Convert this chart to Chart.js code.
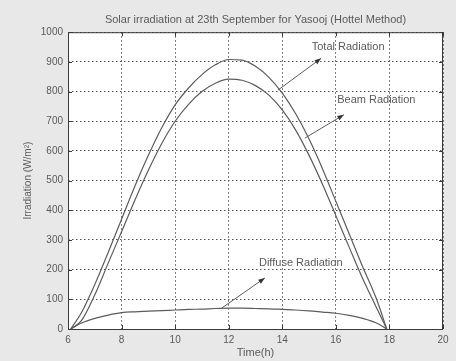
<!DOCTYPE html>
<html>
<head>
<meta charset="utf-8">
<script src="https://cdn.jsdelivr.net/npm/chart.js@4.4.1/dist/chart.umd.min.js"></script>
<style>
  html, body { margin: 0; padding: 0; background: #e8e8e8; }
  #wrap { width: 456px; height: 361px; position: relative; }
</style>
</head>
<body>
<div id="wrap"><canvas id="irradiationChart"></canvas></div>
<script>
// Hours of the day (h) and irradiation values (W/m2)
const hours = [6.1, 6.5, 7, 7.5, 8, 8.5, 9, 9.5, 10, 10.5, 11, 11.5, 12, 12.5, 13, 13.5, 14, 14.5, 15, 15.5, 16, 16.5, 17, 17.5, 17.9];
const totalRadiation = [0, 55, 150, 258, 370, 482, 585, 678, 755, 812, 857, 890, 908, 906, 885, 848, 795, 725, 640, 540, 430, 320, 210, 105, 0];
const beamRadiation = [0, 28, 115, 222, 328, 435, 535, 625, 700, 757, 800, 828, 842, 838, 820, 788, 738, 670, 585, 488, 382, 275, 170, 75, 0];
const diffuseRadiation = [0, 20, 36, 47, 55, 58, 60, 62, 64, 66, 67, 69, 70, 70, 69, 68, 66, 64, 61, 57, 53, 46, 36, 21, 0];
const xTicks = [6, 8, 10, 12, 14, 16, 18, 20];
const yTicks = [0, 100, 200, 300, 400, 500, 600, 700, 800, 900, 1000];

// label text, arrow start (on the curve) and arrow tip, in data units
const notes = [
    { text: 'Total Radiation', tx: 15.1, ty: 949, from: [13.84, 805], to: [15.45, 912] },
    { text: 'Beam Radiation', tx: 16.05, ty: 771, from: [14.84, 643], to: [16.3, 722] },
    { text: 'Diffuse Radiation', tx: 13.13, ty: 222, from: [11.75, 71], to: [13.35, 172] }
];

const textColor = '#5a5a5a';
const lineColor = '#5c5c5c';
const fontFamily = "'Liberation Sans', Arial, sans-serif";

function toPoints(values) {
    return hours.map((h, i) => ({ x: h, y: values[i] }));
}

const framePlugin = {
    id: 'frame',
    beforeDraw(chart) {
        const { ctx, chartArea: a } = chart;
        ctx.save();
        ctx.fillStyle = '#e8e8e8';
        ctx.fillRect(0, 0, chart.width, chart.height);
        ctx.fillStyle = '#ffffff';
        ctx.fillRect(a.left, a.top, a.right - a.left, a.bottom - a.top);
        ctx.restore();
    },
    beforeDatasetsDraw(chart) {
        const { ctx, chartArea: a, scales } = chart;
        ctx.save();
        ctx.strokeStyle = '#3a3a3a';
        ctx.lineWidth = 1;
        ctx.strokeRect(a.left + 0.5, a.top + 0.5, a.right - a.left - 1, a.bottom - a.top);
        // small inward tick marks on all four sides
        ctx.beginPath();
        xTicks.forEach(v => {
            const x = Math.round(scales.x.getPixelForValue(v)) + 0.5;
            ctx.moveTo(x, a.bottom); ctx.lineTo(x, a.bottom - 4);
            ctx.moveTo(x, a.top); ctx.lineTo(x, a.top + 4);
        });
        yTicks.forEach(v => {
            const y = Math.round(scales.y.getPixelForValue(v)) + 0.5;
            ctx.moveTo(a.left, y); ctx.lineTo(a.left + 4, y);
            ctx.moveTo(a.right, y); ctx.lineTo(a.right - 4, y);
        });
        ctx.stroke();
        ctx.restore();
    },
    afterDatasetsDraw(chart) {
        const { ctx, scales } = chart;
        ctx.save();
        ctx.font = '11px ' + fontFamily;
        ctx.textBaseline = 'middle';
        notes.forEach(n => {
            ctx.fillStyle = textColor;
            ctx.fillText(n.text, scales.x.getPixelForValue(n.tx), scales.y.getPixelForValue(n.ty));
            const x1 = scales.x.getPixelForValue(n.from[0]);
            const y1 = scales.y.getPixelForValue(n.from[1]);
            const x2 = scales.x.getPixelForValue(n.to[0]);
            const y2 = scales.y.getPixelForValue(n.to[1]);
            ctx.strokeStyle = lineColor;
            ctx.lineWidth = 1;
            ctx.beginPath();
            ctx.moveTo(x1, y1);
            ctx.lineTo(x2, y2);
            ctx.stroke();
            const ang = Math.atan2(y2 - y1, x2 - x1);
            ctx.fillStyle = '#333';
            ctx.beginPath();
            ctx.moveTo(x2, y2);
            ctx.lineTo(x2 - 7 * Math.cos(ang - 0.35), y2 - 7 * Math.sin(ang - 0.35));
            ctx.lineTo(x2 - 7 * Math.cos(ang + 0.35), y2 - 7 * Math.sin(ang + 0.35));
            ctx.closePath();
            ctx.fill();
        });
        ctx.restore();
    }
};

const lineStyle = {
    borderColor: lineColor,
    borderWidth: 1.2,
    pointRadius: 0,
    cubicInterpolationMode: 'monotone',
    fill: false
};

new Chart(document.getElementById('irradiationChart'), {
    type: 'line',
    data: {
        datasets: [
            Object.assign({ label: 'Total Radiation', data: toPoints(totalRadiation) }, lineStyle),
            Object.assign({ label: 'Beam Radiation', data: toPoints(beamRadiation) }, lineStyle),
            Object.assign({ label: 'Diffuse Radiation', data: toPoints(diffuseRadiation) }, lineStyle)
        ]
    },
    options: {
        responsive: true,
        maintainAspectRatio: false,
        animation: false,
        layout: { padding: { left: 0, right: 13, top: 0, bottom: 0 } },
        plugins: {
            legend: { display: false },
            tooltip: { enabled: false },
            title: {
                display: true,
                fullSize: false,
                text: 'Solar irradiation at 23th September for Yasooj (Hottel Method)',
                color: textColor,
                font: { size: 11, family: fontFamily, weight: 'normal', lineHeight: 1.2 },
                padding: { top: 13, bottom: 6 }
            }
        },
        scales: {
            x: {
                type: 'linear',
                min: 6,
                max: 20,
                afterFit(scale) { scale.height = 32; },
                afterBuildTicks(scale) { scale.ticks = xTicks.map(v => ({ value: v })); },
                grid: { color: '#555', lineWidth: 1, drawTicks: false },
                border: { display: false, dash: [1.5, 2.5] },
                ticks: { color: textColor, padding: 5, font: { size: 10, family: fontFamily }, callback: v => String(v) },
                title: {
                    display: true,
                    text: 'Time(h)',
                    color: textColor,
                    font: { size: 11, family: fontFamily, lineHeight: 1.2 },
                    padding: { top: 0, bottom: 1 }
                }
            },
            y: {
                min: 0,
                max: 1000,
                afterFit(scale) { scale.width = 68; },
                afterBuildTicks(scale) { scale.ticks = yTicks.map(v => ({ value: v })); },
                grid: { color: '#555', lineWidth: 1, drawTicks: false },
                border: { display: false, dash: [1.5, 2.5] },
                ticks: { color: textColor, padding: 5, font: { size: 10, family: fontFamily }, callback: v => String(v) },
                title: {
                    display: true,
                    text: 'Irradiation (W/m²)',
                    color: textColor,
                    font: { size: 10, family: fontFamily, lineHeight: 1.2 },
                    padding: { top: 22, bottom: 0 }
                }
            }
        }
    },
    plugins: [framePlugin]
});
</script>
</body>
</html>
